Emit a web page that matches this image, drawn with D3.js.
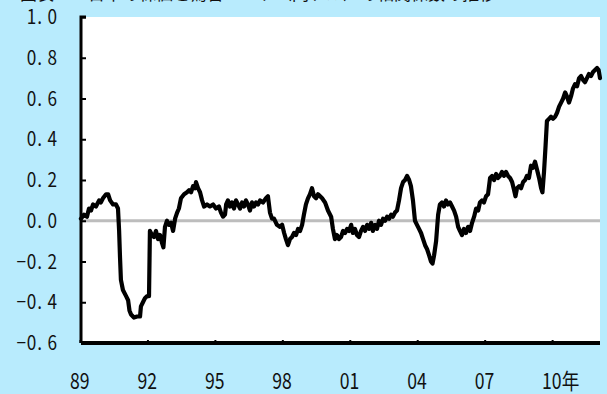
<!DOCTYPE html>
<html>
<head>
<meta charset="utf-8">
<script src="https://cdn.jsdelivr.net/npm/d3@7"></script>
<style>
  html, body { margin: 0; padding: 0; background: #b8ebfd; }
  svg { display: block; }
  text { font-family: "Noto Sans CJK JP", "Noto Sans", sans-serif; fill: #111; }
</style>
</head>
<body>
<svg id="chart" width="607" height="394"></svg>
<script>
// correlation series (decimal year, value)
const years = [
  1989.04, 1989.18, 1989.31, 1989.40, 1989.49, 1989.58, 1989.71, 1989.85, 1989.93, 1990.02,
  1990.16, 1990.25, 1990.34, 1990.47, 1990.60, 1990.69, 1990.74, 1990.78, 1990.82, 1990.91,
  1991.05, 1991.14, 1991.20, 1991.27, 1991.40, 1991.54, 1991.67, 1991.71, 1991.80, 1991.89,
  1991.98, 1992.07, 1992.11, 1992.20, 1992.29, 1992.38, 1992.47, 1992.56, 1992.65, 1992.71,
  1992.78, 1992.87, 1992.96, 1993.05, 1993.14, 1993.23, 1993.32, 1993.40, 1993.49, 1993.63,
  1993.76, 1993.85, 1993.94, 1994.03, 1994.12, 1994.16, 1994.25, 1994.34, 1994.43, 1994.52,
  1994.65, 1994.78, 1994.92, 1995.05, 1995.18, 1995.27, 1995.36, 1995.45, 1995.50, 1995.58,
  1995.67, 1995.76, 1995.85, 1995.94, 1996.03, 1996.12, 1996.21, 1996.30, 1996.38, 1996.47,
  1996.56, 1996.65, 1996.74, 1996.83, 1996.92, 1997.01, 1997.14, 1997.27, 1997.36, 1997.45,
  1997.54, 1997.63, 1997.76, 1997.90, 1997.99, 1998.08, 1998.16, 1998.25, 1998.34, 1998.43,
  1998.52, 1998.61, 1998.70, 1998.79, 1998.88, 1998.96, 1999.05, 1999.14, 1999.23, 1999.32,
  1999.41, 1999.50, 1999.59, 1999.68, 1999.77, 1999.90, 2000.03, 2000.17, 2000.25, 2000.34,
  2000.43, 2000.52, 2000.61, 2000.70, 2000.79, 2000.88, 2000.97, 2001.06, 2001.14, 2001.23,
  2001.32, 2001.41, 2001.50, 2001.59, 2001.68, 2001.77, 2001.86, 2001.95, 2002.03, 2002.12,
  2002.21, 2002.30, 2002.39, 2002.48, 2002.57, 2002.66, 2002.75, 2002.84, 2002.92, 2003.01,
  2003.10, 2003.19, 2003.28, 2003.37, 2003.46, 2003.55, 2003.64, 2003.72, 2003.81, 2003.90,
  2003.99, 2004.08, 2004.17, 2004.26, 2004.35, 2004.44, 2004.53, 2004.61, 2004.68, 2004.75,
  2004.84, 2004.93, 2005.01, 2005.10, 2005.19, 2005.28, 2005.37, 2005.46, 2005.55, 2005.64,
  2005.73, 2005.82, 2005.90, 2005.99, 2006.08, 2006.17, 2006.26, 2006.35, 2006.44, 2006.53,
  2006.62, 2006.71, 2006.79, 2006.88, 2006.97, 2007.06, 2007.15, 2007.24, 2007.33, 2007.42,
  2007.51, 2007.59, 2007.68, 2007.77, 2007.86, 2007.95, 2008.04, 2008.13, 2008.22, 2008.31,
  2008.37, 2008.44, 2008.53, 2008.62, 2008.71, 2008.80, 2008.88, 2008.97, 2009.06, 2009.15,
  2009.24, 2009.33, 2009.42, 2009.51, 2009.57, 2009.64, 2009.71, 2009.77, 2009.86, 2009.95,
  2010.04, 2010.13, 2010.22, 2010.31, 2010.40, 2010.49, 2010.58, 2010.66, 2010.75, 2010.84,
  2010.93, 2011.02, 2011.11, 2011.20, 2011.29, 2011.38, 2011.46, 2011.55, 2011.64, 2011.73,
  2011.82, 2011.91, 2012.00, 2012.07, 2012.13
];
const corr = [
   0.01,  0.03,  0.02,  0.06,  0.05,  0.08,  0.07,  0.10,  0.09,  0.11,
   0.13,  0.13,  0.10,  0.08,  0.08,  0.06, -0.05, -0.18, -0.29, -0.34,
  -0.37, -0.39, -0.44, -0.46, -0.475,-0.47, -0.47, -0.42, -0.40, -0.38,
  -0.37, -0.37, -0.05, -0.07, -0.08, -0.05, -0.09, -0.07, -0.11, -0.13,
  -0.03,  0.00, -0.02, -0.01, -0.05,  0.01,  0.04,  0.06,  0.11,  0.13,
   0.14,  0.15,  0.14,  0.17,  0.16,  0.19,  0.16,  0.14,  0.10,  0.07,
   0.08,  0.07,  0.08,  0.06,  0.07,  0.04,  0.02,  0.03,  0.08,  0.10,
   0.07,  0.09,  0.06,  0.10,  0.08,  0.06,  0.09,  0.07,  0.10,  0.08,
   0.05,  0.09,  0.07,  0.09,  0.08,  0.10,  0.09,  0.11,  0.12,  0.04,
   0.01,  0.01, -0.02, -0.03, -0.02, -0.06, -0.09, -0.12, -0.09, -0.08,
  -0.06, -0.07, -0.04, -0.05, -0.02,  0.03,  0.08,  0.11,  0.13,  0.16,
   0.12,  0.11,  0.13,  0.12,  0.11,  0.09,  0.05,  0.02, -0.04, -0.09,
  -0.07, -0.09, -0.08, -0.05, -0.06, -0.04, -0.05, -0.02, -0.06, -0.04,
  -0.07, -0.08, -0.05, -0.03, -0.05, -0.02, -0.04, -0.01, -0.05, -0.02,
  -0.04,  0.00, -0.02,  0.01,  0.00,  0.02,  0.01,  0.03,  0.02,  0.04,
   0.05,  0.10,  0.16,  0.19,  0.20,  0.22,  0.20,  0.17,  0.10,  0.00,
  -0.02, -0.04, -0.06, -0.09, -0.12, -0.14, -0.17, -0.20, -0.21, -0.17,
  -0.10,  0.03,  0.08,  0.09,  0.07,  0.10,  0.08,  0.09,  0.07,  0.05,
   0.02, -0.03, -0.05, -0.07, -0.04, -0.06, -0.03, -0.05, -0.01,  0.02,
   0.06,  0.05,  0.09,  0.10,  0.09,  0.12,  0.13,  0.21,  0.22,  0.20,
   0.23,  0.21,  0.22,  0.24,  0.22,  0.24,  0.22,  0.21,  0.19,  0.15,
   0.12,  0.16,  0.17,  0.16,  0.19,  0.20,  0.22,  0.21,  0.27,  0.26,
   0.29,  0.25,  0.21,  0.16,  0.14,  0.24,  0.37,  0.49,  0.50,  0.51,
   0.50,  0.51,  0.53,  0.56,  0.58,  0.60,  0.63,  0.61,  0.58,  0.61,
   0.65,  0.67,  0.66,  0.70,  0.71,  0.69,  0.68,  0.70,  0.72,  0.71,
   0.73,  0.74,  0.75,  0.74,  0.70
];
const yTicks = [1.0, 0.8, 0.6, 0.4, 0.2, 0.0, -0.2, -0.4, -0.6];
const xTicks = [1989, 1992, 1995, 1998, 2001, 2004, 2007, 2010];
const xTickLabels = ["89", "92", "95", "98", "01", "04", "07", "10年"];
const title = "図表３　日本の株価と為替レート（円ドル）の相関係数の推移";

const svg = d3.select("#chart"),
    plotL = 81, plotR = 600, plotT = 17, plotB = 343;

const x = d3.scaleLinear().domain([1989, 2012.13]).range([80, plotR]),
    y = d3.scaleLinear().domain([-0.6, 1.0]).range([plotB, plotT]);

// title, mostly above the top edge (only its foot shows)
svg.append("text")
    .attr("x", 20).attr("y", 0)
    .attr("font-size", 17)
    .text(title);

// white plot area
svg.append("rect")
    .attr("x", plotL).attr("y", plotT)
    .attr("width", plotR - plotL).attr("height", plotB - plotT)
    .attr("fill", "#fff");

// zero line
svg.append("line")
    .attr("x1", plotL).attr("x2", plotR)
    .attr("y1", y(0)).attr("y2", y(0))
    .attr("stroke", "#bdbdbd").attr("stroke-width", 3);

// series
const pts = years.map((t, i) => [t, corr[i]]);
svg.append("path")
    .datum(pts)
    .attr("fill", "none")
    .attr("stroke", "#000")
    .attr("stroke-width", 4.2)
    .attr("stroke-linejoin", "round")
    .attr("stroke-linecap", "round")
    .attr("d", d3.line().x(d => x(d[0])).y(d => y(d[1])));

// y axis
const yAxis = svg.append("g")
    .attr("transform", `translate(${plotL},0)`)
    .call(d3.axisRight(y).tickValues(yTicks).tickSize(5).tickFormat(""));
yAxis.select(".domain").attr("stroke", "#000").attr("stroke-width", 3)
    .attr("d", `M5,${plotT}H0V${plotB}`);
yAxis.selectAll(".tick line").attr("stroke", "#000").attr("stroke-width", 2);

svg.append("g").selectAll("text")
    .data(yTicks)
    .enter()
    .append("text")
    .attr("transform", d => `translate(58,${y(d) + 7}) scale(0.86,1)`)
    .attr("text-anchor", "end")
    .attr("font-size", 20)
    .attr("letter-spacing", 1)
    .text(d => d3.format(".1f")(d).replace("-", "\u2212").replace(".", ". "));

// x axis
const xAxis = svg.append("g")
    .attr("transform", `translate(0,${plotB})`)
    .call(d3.axisTop(x).tickValues(xTicks).tickSize(3).tickFormat(""));
xAxis.select(".domain").attr("stroke", "#000").attr("stroke-width", 4)
    .attr("d", `M${plotL},0H${plotR}`);
xAxis.selectAll(".tick line").attr("stroke", "#000").attr("stroke-width", 2);

svg.append("g").selectAll("text")
    .data(xTicks)
    .enter()
    .append("text")
    .attr("transform", d => `translate(${x(d) - 10},389) scale(0.8,1)`)
    .attr("font-size", 22)
    .text((d, i) => xTickLabels[i]);
</script>
</body>
</html>
